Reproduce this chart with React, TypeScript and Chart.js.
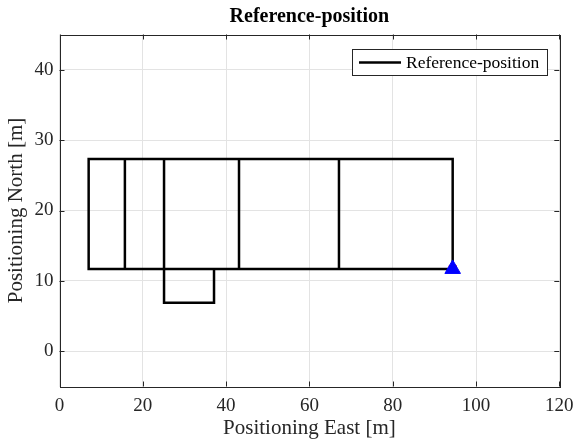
import React, { useEffect, useRef } from "react";
import { Chart, registerables } from "chart.js";

Chart.register(...registerables);

const pathEast = [94.4, 94.4, 7, 7, 15.7, 15.7, 25.1, 25.1, 37.1, 37.1, 15.7, 43.1, 43.1, 67.1, 67.1, 43.1, 94.4];
const pathNorth = [11.7, 27.3, 27.3, 11.7, 11.7, 27.3, 27.3, 6.9, 6.9, 11.7, 11.7, 11.7, 27.3, 27.3, 11.7, 11.7, 11.7];
const markerEast = [94.4];
const markerNorth = [11.7];
const xTicks = [0, 20, 40, 60, 80, 100, 120];
const yTicks = [0, 10, 20, 30, 40];
const seriesLabel = "Reference-position";
const titleText = "Reference-position";
const xTitle = "Positioning East [m]";
const yTitle = "Positioning North [m]";

const SERIF = "'Liberation Serif', 'Times New Roman', serif";

const framePlugin = {
  id: "frame",
  afterDraw(chart: any) {
    const { ctx, chartArea } = chart;
    const { left, right, top, bottom } = chartArea;
    const xs = chart.scales.x;
    const ys = chart.scales.y;
    ctx.save();
    ctx.strokeStyle = "#262626";
    ctx.lineWidth = 1;
    ctx.strokeRect(Math.round(left) + 0.5, Math.round(top) + 0.5, Math.round(right - left), Math.round(bottom - top));
    const tl = 5;
    ctx.beginPath();
    xTicks.forEach((v) => {
      const px = Math.round(xs.getPixelForValue(v)) + 0.5;
      ctx.moveTo(px, bottom);
      ctx.lineTo(px, bottom - tl);
      ctx.moveTo(px, top);
      ctx.lineTo(px, top + tl);
    });
    yTicks.forEach((v) => {
      const py = Math.round(ys.getPixelForValue(v)) + 0.5;
      ctx.moveTo(left, py);
      ctx.lineTo(left + tl, py);
      ctx.moveTo(right, py);
      ctx.lineTo(right - tl, py);
    });
    ctx.stroke();

    // legend
    const bx = 352.5, by = 49.5, bw = 195, bh = 26;
    ctx.fillStyle = "#ffffff";
    ctx.fillRect(bx, by, bw, bh);
    ctx.strokeStyle = "#262626";
    ctx.lineWidth = 1;
    ctx.strokeRect(bx, by, bw, bh);
    ctx.strokeStyle = "#000000";
    ctx.lineWidth = 2.5;
    ctx.beginPath();
    ctx.moveTo(359, by + bh / 2);
    ctx.lineTo(401, by + bh / 2);
    ctx.stroke();
    ctx.fillStyle = "#000000";
    ctx.font = `17.5px ${SERIF}`;
    ctx.textBaseline = "middle";
    ctx.textAlign = "left";
    ctx.fillText(seriesLabel, 406, by + bh / 2 + 1);
    ctx.restore();
  },
};

export default function App() {
  const ref = useRef<HTMLCanvasElement>(null);
  useEffect(() => {
    document.body.style.margin = "0";
    const canvas = ref.current!;
    const chart = new Chart(canvas, {
      type: "scatter",
      data: {
        datasets: [
          {
            label: "marker-red",
            data: markerEast.map((x, i) => ({ x, y: markerNorth[i] })),
            pointStyle: "rect",
            pointRadius: 5,
            backgroundColor: "#ff0000",
            borderColor: "#ff0000",
            showLine: false,
            order: 2,
          },
          {
            label: seriesLabel,
            data: pathEast.map((x, i) => ({ x, y: pathNorth[i] })),
            showLine: true,
            borderColor: "#000000",
            borderWidth: 2.5,
            pointRadius: 0,
            fill: false,
            tension: 0,
            borderJoinStyle: "miter",
            order: 1,
          },
          {
            label: "marker-blue",
            data: markerEast.map((x, i) => ({ x, y: markerNorth[i] })),
            pointStyle: "triangle",
            pointRadius: 9,
            backgroundColor: "#0000ff",
            borderColor: "#0000ff",
            borderWidth: 1,
            showLine: false,
            order: 0,
          },
        ],
      },
      options: {
        animation: false,
        responsive: false,
        layout: { padding: { top: 34.5, right: 15.7, left: 0, bottom: 0 } },
        plugins: {
          legend: { display: false },
          tooltip: { enabled: false },
          title: { display: false },
        },
        scales: {
          x: {
            type: "linear",
            min: 0,
            max: 120,
            afterBuildTicks: (s: any) => {
              s.ticks = xTicks.map((v) => ({ value: v }));
            },
            afterFit: (s: any) => {
              s.height = 54.5;
              s.paddingLeft = 0;
              s.paddingRight = 0;
            },
            grid: { color: "#e3e3e3", drawTicks: false, lineWidth: 1 },
            border: { display: false },
            ticks: {
              color: "#262626",
              font: { family: SERIF, size: 19 },
              padding: 8,
              maxRotation: 0,
            },
            title: {
              display: true,
              text: xTitle,
              color: "#262626",
              font: { family: SERIF, size: 21 },
              padding: { top: 0, bottom: 0 },
            },
          },
          y: {
            type: "linear",
            min: -5,
            max: 45,
            afterBuildTicks: (s: any) => {
              s.ticks = yTicks.map((v) => ({ value: v }));
            },
            afterFit: (s: any) => {
              s.width = 59.5;
              s.paddingTop = 0;
              s.paddingBottom = 0;
            },
            grid: { color: "#e3e3e3", drawTicks: false, lineWidth: 1 },
            border: { display: false },
            ticks: {
              color: "#262626",
              font: { family: SERIF, size: 19 },
              padding: 6,
            },
            title: {
              display: true,
              text: yTitle,
              color: "#262626",
              font: { family: SERIF, size: 21 },
              padding: { top: 4, bottom: 4 },
            },
          },
        },
      },
      plugins: [
        framePlugin,
        {
          id: "topTitle",
          afterDraw(c: any) {
            const { ctx, chartArea } = c;
            ctx.save();
            ctx.fillStyle = "#000000";
            ctx.font = `bold 20px ${SERIF}`;
            ctx.textAlign = "center";
            ctx.textBaseline = "middle";
            ctx.fillText(titleText, (chartArea.left + chartArea.right) / 2, 17);
            ctx.restore();
          },
        },
      ],
    } as any);
    return () => chart.destroy();
  }, []);
  return (
    <div style={{ width: 575, height: 441 }}>
      <canvas ref={ref} width={575} height={441} style={{ display: "block", width: 575, height: 441 }} />
    </div>
  );
}
